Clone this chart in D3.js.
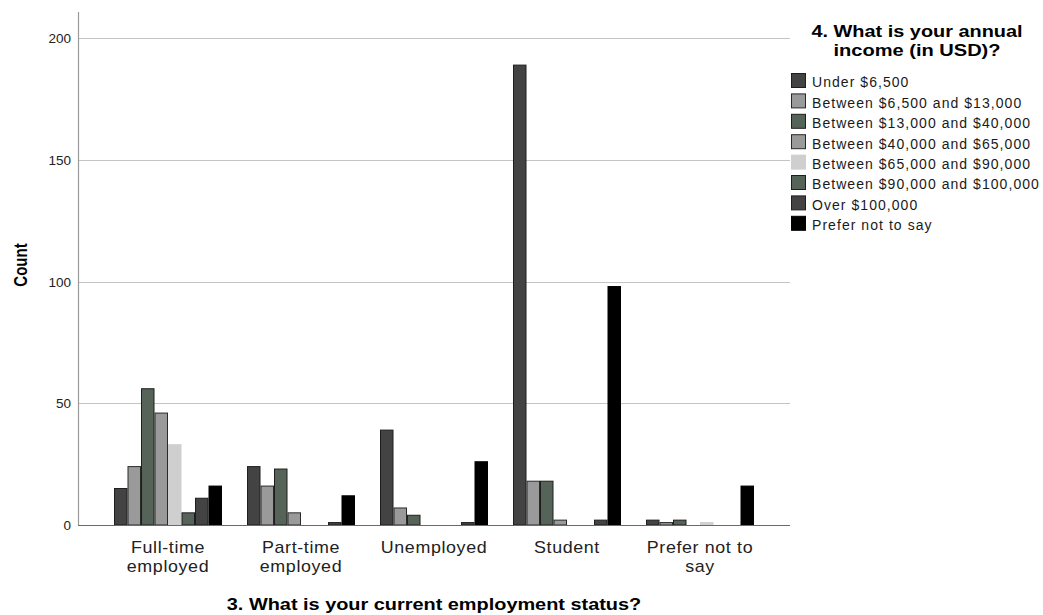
<!DOCTYPE html>
<html>
<head>
<meta charset="utf-8">
<script src="https://cdn.jsdelivr.net/npm/d3@7"></script>
<style>
html,body{margin:0;padding:0;background:#fff;}
svg{display:block;font-family:"Liberation Sans",Arial,sans-serif;}
</style>
</head>
<body>
<svg id="chart" width="1043" height="615"></svg>
<script>
const categories = ["Full-time employed","Part-time employed","Unemployed","Student","Prefer not to say"];
const categoryLines = [["Full-time","employed"],["Part-time","employed"],["Unemployed"],["Student"],["Prefer not to","say"]];
const seriesNames = ["Under $6,500","Between $6,500 and $13,000","Between $13,000 and $40,000","Between $40,000 and $65,000","Between $65,000 and $90,000","Between $90,000 and $100,000","Over $100,000","Prefer not to say"];
const under6500   = [15, 24, 39, 189, 2];
const b6500_13000 = [24, 16, 7, 18, 1];
const b13000_40000= [56, 23, 4, 18, 2];
const b40000_65000= [46, 5, 0, 2, 0];
const b65000_90000= [33, 0, 0, 0, 1];
const b90000_100000=[5, 0, 0, 0, 0];
const over100000  = [11, 1, 1, 2, 0];
const preferNot   = [16, 12, 26, 98, 16];
const seriesValues = [under6500,b6500_13000,b13000_40000,b40000_65000,b65000_90000,b90000_100000,over100000,preferNot];
const yTicks = [0, 50, 100, 150, 200];
const seriesFill = ["#434343","#9a9a9a","#566358","#9a9a9a","#cfcfcf","#566358","#434343","#000000"];
const seriesStroke = ["#1e1e1e","#2a2a2a","#1e1e1e","#2a2a2a","#cfcfcf","#1e1e1e","#1e1e1e","#000000"];

(function () {
const svg = d3.select("#chart");
const pLeft = 78, pRight = 790, pBottom = 525, pTop = 12;

const y = d3.scaleLinear().domain([0, 210]).range([pBottom, 14]);
const x0 = d3.scaleBand().domain(categories).range([101.5, 766.5]).paddingInner(0).paddingOuter(0);
const x1 = d3.scaleBand().domain(seriesNames).range([12.5, 120.5]).padding(0);

function txt(parent, str, x, yy, o) {
  return parent.append("text")
    .attr("transform", `translate(${x},${yy}) scale(${o.sx||1},1)` + (o.rot ? ` rotate(${o.rot})` : ""))
    .attr("text-anchor", o.anchor || "start")
    .attr("font-size", o.size)
    .attr("font-weight", o.weight || "normal")
    .attr("letter-spacing", o.ls || 0)
    .attr("fill", o.fill || "#000")
    .text(str);
}

// gridlines
svg.append("g").selectAll("line").data(yTicks.filter(d => d > 0)).join("line")
  .attr("x1", pLeft).attr("x2", pRight)
  .attr("y1", d => Math.round(y(d)) + 0.5).attr("y2", d => Math.round(y(d)) + 0.5)
  .attr("stroke", "#c4c4c4").attr("stroke-width", 1);

// y axis line
svg.append("line").attr("x1", pLeft + 0.5).attr("x2", pLeft + 0.5).attr("y1", pTop).attr("y2", pBottom)
  .attr("stroke", "#9a9a9a").attr("stroke-width", 1.2);

// y tick labels
yTicks.forEach(v => {
  txt(svg, String(v), 71, y(v) + 5, {size: 13.5, anchor: "end", fill: "#222"});
});

// bars
const data = [];
categories.forEach((c, ci) => {
  seriesNames.forEach((s, si) => {
    data.push({c, s, si, v: seriesValues[si][ci]});
  });
});
svg.append("g").selectAll("rect").data(data.filter(d => d.v > 0)).join("rect")
  .attr("x", d => x0(d.c) + x1(d.s) + 0.5)
  .attr("y", d => y(d.v))
  .attr("width", x1.bandwidth() - 1)
  .attr("height", d => pBottom - y(d.v))
  .attr("fill", d => seriesFill[d.si])
  .attr("stroke", d => seriesStroke[d.si])
  .attr("stroke-width", 1);

// x axis baseline
svg.append("line").attr("x1", pLeft).attr("x2", pRight).attr("y1", pBottom + 0.5).attr("y2", pBottom + 0.5)
  .attr("stroke", "#6a6a6a").attr("stroke-width", 1.2);

// x tick labels
categories.forEach((c, ci) => {
  const cx = x0(c) + x0.bandwidth() / 2;
  categoryLines[ci].forEach((line, li) => {
    txt(svg, line, cx, 553 + li * 19, {size: 17, anchor: "middle", sx: 1.05, ls: 0.6, fill: "#222"});
  });
});

// axis titles
txt(svg, "3. What is your current employment status?", 434, 610, {size: 17, weight: "bold", anchor: "middle", sx: 1.17});
txt(svg, "Count", 27, 265, {size: 15, weight: "bold", anchor: "middle", sx: 1.17, rot: -90});

// legend
const lg = svg.append("g");
txt(lg, "4. What is your annual", 917, 37, {size: 17, weight: "bold", anchor: "middle", sx: 1.17});
txt(lg, "income (in USD)?", 917, 56, {size: 17, weight: "bold", anchor: "middle", sx: 1.18});
seriesNames.forEach((s, i) => {
  lg.append("rect")
    .attr("x", 791.5).attr("y", 73.5 + i * 20.4)
    .attr("width", 14).attr("height", 14)
    .attr("fill", seriesFill[i])
    .attr("stroke", seriesStroke[i]).attr("stroke-width", 1);
  txt(lg, s, 812, 87.3 + i * 20.4, {size: 14, ls: 1.05, fill: "#1a1a1a"});
});
})();
</script>
</body>
</html>
